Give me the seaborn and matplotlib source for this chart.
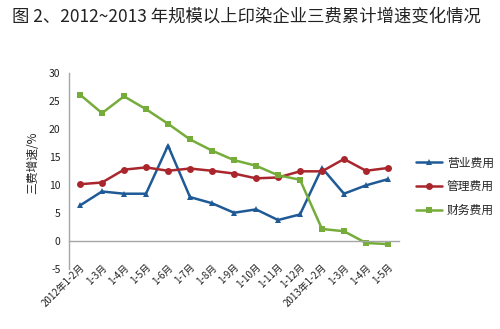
import matplotlib
matplotlib.use("Agg")
import matplotlib.pyplot as plt
import seaborn as sns
import pandas as pd

categories = ["2012年1-2月", "1-3月", "1-4月", "1-5月", "1-6月", "1-7月", "1-8月", "1-9月",
              "1-10月", "1-11月", "1-12月", "2013年1-2月", "1-3月", "1-4月", "1-5月"]
yingye = [6.4, 8.9, 8.5, 8.5, 17.1, 7.9, 6.8, 5.1, 5.7, 3.8, 4.8, 13.1, 8.5, 10.0, 11.1]
guanli = [10.2, 10.5, 12.8, 13.2, 12.6, 13.0, 12.6, 12.1, 11.25, 11.4, 12.5, 12.5, 14.7, 12.6, 13.1]
caiwu = [26.2, 22.9, 25.9, 23.6, 21.0, 18.2, 16.2, 14.5, 13.5, 11.8, 11.0, 2.2, 1.8, -0.3, -0.5]
series_names = ["营业费用", "管理费用", "财务费用"]
y_ticks = [-5, 0, 5, 10, 15, 20, 25, 30]

sns.set_style("white")
plt.rcParams['font.family'] = ['Noto Sans CJK SC', 'DejaVu Sans']

rows = []
for name, vals in zip(series_names, [yingye, guanli, caiwu]):
    for i, v in enumerate(vals):
        rows.append({"idx": i, "value": v, "series": name})
df = pd.DataFrame(rows)

fig = plt.figure(figsize=(5.0, 3.29), dpi=100)
ax = fig.add_axes([0.138, 0.1815, 0.66, 0.5955])

palette = {"营业费用": "#1F5A96", "管理费用": "#A9262C", "财务费用": "#76AC3A"}
markers = {"营业费用": "^", "管理费用": "o", "财务费用": "s"}
sns.lineplot(data=df, x="idx", y="value", hue="series", style="series",
             palette=palette, markers=markers, dashes=False, linewidth=1.8,
             markersize=5, markeredgewidth=0, ax=ax, legend=True)

ax.spines["bottom"].set_position(("data", 0))
for s in ["top", "right"]:
    ax.spines[s].set_visible(False)
for s in ["bottom", "left"]:
    ax.spines[s].set_color("#A6A6A6")
    ax.spines[s].set_linewidth(1.0)

ax.set_xlim(-0.5, len(categories) - 0.5)
ax.set_ylim(-5, 30)
ax.set_yticks(y_ticks)
ax.set_yticklabels([str(t) for t in y_ticks], fontsize=7.5, color="#222222")
ax.set_xticks(range(len(categories)))
ax.set_xticklabels(categories, fontsize=7, color="#222222", rotation=45,
                   ha="right", rotation_mode="anchor")
ax.tick_params(axis="x", direction="inout", length=4, color="#A6A6A6", pad=13)
ax.tick_params(axis="y", direction="out", length=3, color="#A6A6A6", pad=3)
ax.set_xlabel("")
ax.set_ylabel("")

fig.text(0.066, 0.505, "三费增速/%", rotation=90, ha="center", va="center",
         fontsize=8.5, color="#222222")

h, l = ax.get_legend_handles_labels()
ax.legend(h, l, loc="upper left", bbox_to_anchor=(1.02, 0.63), frameon=False,
          fontsize=8.5, handlelength=2.2, labelspacing=0.9, handletextpad=0.4)

fig.text(0.024, 0.948, "图 2、2012~2013 年规模以上印染企业三费累计增速变化情况",
         ha="left", va="center", fontsize=12.5, color="#222222")

fig.savefig("out.png", dpi=100)
